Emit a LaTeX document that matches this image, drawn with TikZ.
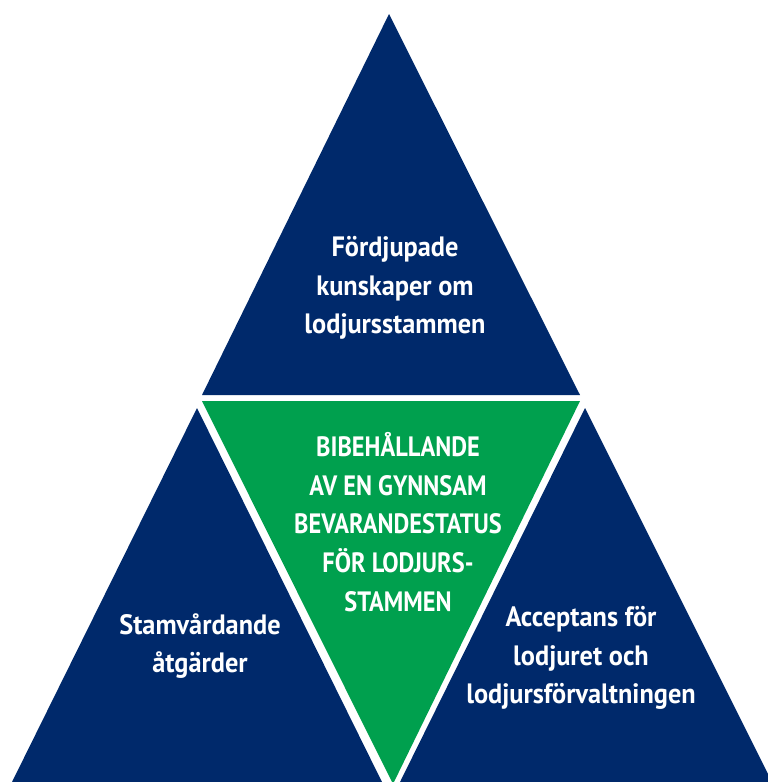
\documentclass[tikz,border=0pt]{standalone}
\usepackage{fontspec}
\setmainfont{PT Sans}[FakeStretch=0.87]
\newfontfamily\lowfont{PT Sans}[FakeStretch=0.94]
\usepackage{tikz}
\usetikzlibrary{positioning}
\definecolor{navy}{RGB}{0,41,107}
\definecolor{lodgreen}{RGB}{0,160,78}
\tikzset{
    lbl/.style={text=white, font=\bfseries\fontsize{28}{38.7}\selectfont, align=center, inner sep=0pt},
    lowlbl/.style={lbl, font=\lowfont\bfseries\fontsize{28}{38.7}\selectfont},
}
\begin{document}
\begin{tikzpicture}[x=1pt, y=-1pt]
    \useasboundingbox (0,0) rectangle (768,782);
    \fill[navy] (389,14) -- (580,395) -- (202,395) -- cycle;
    \fill[lodgreen] (202,401) -- (580,401) -- (393,784) -- cycle;
    \fill[navy] (197,408) -- (382,782) -- (12,782) -- cycle;
    \fill[navy] (585,408) -- (772,782) -- (400,782) -- cycle;
    \node[lowlbl] (kunskap) at (395,288) {Fördjupade\\kunskaper om\\lodjursstammen};
    \node[lbl] (status) at (398,522) {BIBEHÅLLANDE\\AV EN GYNNSAM\\BEVARANDESTATUS\\FÖR LODJURS-\\STAMMEN};
    \node[lowlbl] (atgard) at (200,646) {Stamvårdande\\åtgärder};
    \node[lowlbl] (accept) at (581,658) {Acceptans för\\lodjuret och\\lodjursförvaltningen};
\end{tikzpicture}
\end{document}
